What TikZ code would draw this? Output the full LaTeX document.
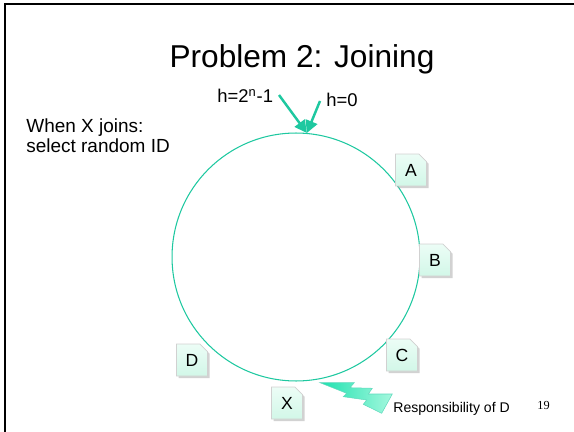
\documentclass[tikz,border=0pt]{standalone}
\usepackage{fontspec}
\setmainfont{Liberation Sans}
\newfontfamily\pagenumfont{Liberation Serif}
\usepackage{tikz}
\usetikzlibrary{shapes.misc, shadows, arrows.meta, positioning}
\usepackage{xcolor}
\definecolor{ringteal}{RGB}{30,200,160}
\definecolor{mint}{RGB}{210,247,232}
\definecolor{mintlight}{RGB}{236,253,246}
\definecolor{boltdark}{RGB}{30,225,175}
\definecolor{boltlight}{RGB}{165,248,222}

\begin{document}
\begin{tikzpicture}[x=0.02cm, y=-0.02cm,
  idbox/.style={chamfered rectangle, chamfered rectangle corners=north east, chamfered rectangle sep=2.2pt, draw=black!18, top color=mintlight, bottom color=mint, minimum width=0.62cm, minimum height=0.64cm, inner sep=0pt, font=\fontsize{10}{12}\selectfont, drop shadow={shadow xshift=1.2pt, shadow yshift=-1.2pt, fill=black!35, opacity=0.5}},
  arrow/.style={-{Triangle[length=7pt, width=7pt]}, line width=1.4pt, draw=ringteal, fill=ringteal},
  plaintext/.style={anchor=base west, inner sep=0pt},
  hlabel/.style={plaintext, font=\fontsize{10.5}{12}\selectfont}
]
\useasboundingbox (0,0) rectangle (574,432);
\draw[line width=1.1pt] (5,432) |- (574,4);

\node[anchor=base, font=\fontsize{18}{22}\selectfont] (title) at (302,68) {Problem 2: Joining};
\node[plaintext, align=left, font=\fontsize{10.8}{11.4}\selectfont] (note) at (26,153) {When X joins:\\select random ID};

\node[circle, draw=ringteal, line width=0.6pt, minimum size=4.96cm, inner sep=0pt] (ring) at (296,257) {};

\node[hlabel] (hmax) at (217,103) {h=2\textsuperscript{n}-1};
\node[hlabel] (hzero) at (326,107) {h=0};
\coordinate (tailL) at (279,95);
\coordinate (tailR) at (320,101);
\draw[arrow] (tailL) -- (ring.85);
\draw[arrow] (tailR) -- (ring.85);

\node[idbox] (A) at (411,170) {A};
\node[idbox] (B) at (435,260) {B};
\node[idbox] (C) at (402,355) {C};
\node[idbox] (D) at (192,360) {D};
\node[idbox] (X) at (287,403) {X};

% lightning bolt
\shade[left color=boltdark, right color=boltlight, draw=ringteal!70, line width=0.3pt]
  (320,382.7) -- (354.3,382.7) -- (350,387.7) -- (372.3,388.3) -- (368.3,394) -- (392.3,394)
  -- (381.7,413.3) -- (363.3,404.3) -- (366.7,400) -- (343.3,396.7) -- (346.7,393.3) -- cycle;

\node[plaintext, font=\fontsize{8}{10}\selectfont] (resp) at (393,412) {Responsibility of D};
\node[plaintext, font=\pagenumfont\fontsize{7}{8}\selectfont] (pagenum) at (537,409) {19};
\end{tikzpicture}
\end{document}
